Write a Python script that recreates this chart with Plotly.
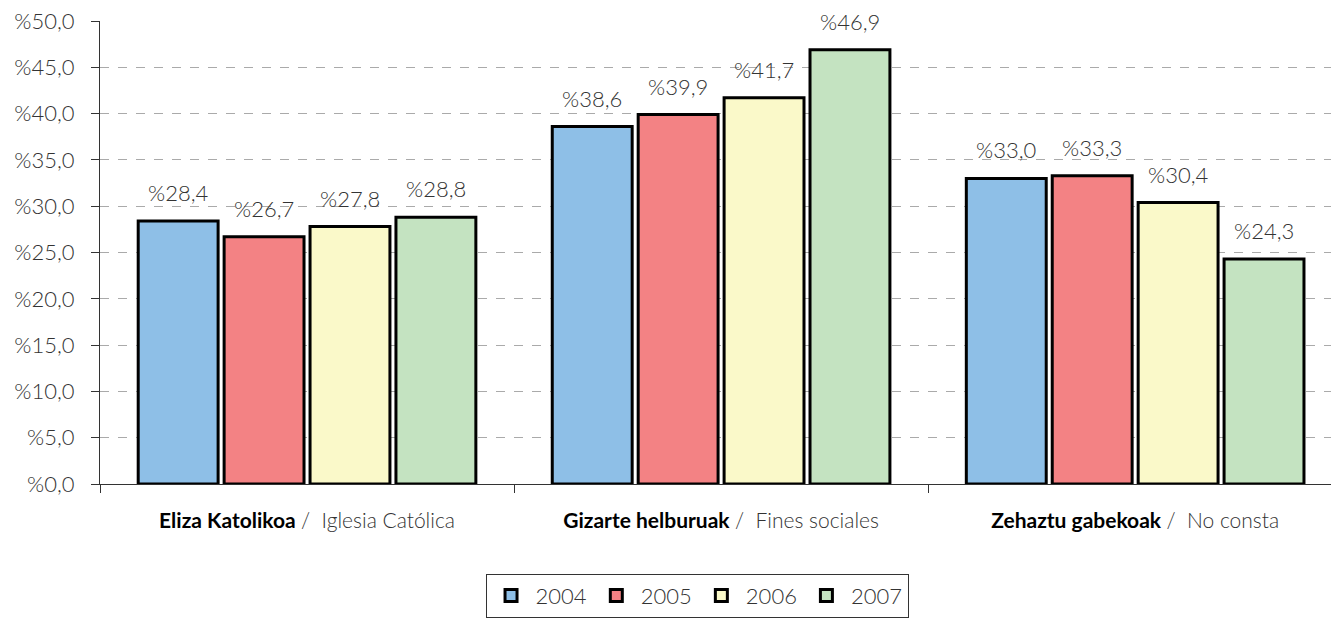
import plotly.graph_objects as go

categories = ["Eliza Katolikoa", "Gizarte helburuak", "Zehaztu gabekoak"]
categories_es = ["Iglesia Católica", "Fines sociales", "No consta"]
years = ["2004", "2005", "2006", "2007"]
values = {
    "2004": [28.4, 38.6, 33.0],
    "2005": [26.7, 39.9, 33.3],
    "2006": [27.8, 41.7, 30.4],
    "2007": [28.8, 46.9, 24.3],
}
colors = {"2004": "#8EBFE7", "2005": "#F38284", "2006": "#FAF9C9", "2007": "#C4E3C1"}
y_ticks = [0, 5, 10, 15, 20, 25, 30, 35, 40, 45, 50]

def pct(v):
    return "%" + f"{v:.1f}".replace(".", ",")

FONT = "Lato"
BARGAP = 0.17
x_idx = list(range(len(categories)))

fig = go.Figure()
for yr in years:
    fig.add_trace(go.Bar(
        x=x_idx, y=values[yr], name=yr,
        marker=dict(color=colors[yr], line=dict(color="#000000", width=3)),
        cliponaxis=False,
    ))

# value labels above bars, placed via data coordinates
slot = (1 - BARGAP) / len(years)
for j, yr in enumerate(years):
    for i, v in enumerate(values[yr]):
        fig.add_annotation(
            x=x_idx[i] + (j - (len(years) - 1) / 2) * slot, y=v,
            xref="x", yref="y", text=pct(v), showarrow=False,
            yanchor="bottom", yshift=13,
            font=dict(family=FONT, size=22, color="#333333", weight=300),
        )

ticktext = [f"<b>{c}</b> <span style='color:#333;font-weight:300'>/  {e}</span>"
            for c, e in zip(categories, categories_es)]

fig.update_layout(
    width=1331, height=621,
    margin=dict(l=100, r=0, t=21, b=137, autoexpand=False),
    paper_bgcolor="white", plot_bgcolor="white",
    barmode="group", bargap=BARGAP, bargroupgap=0.07,
    font=dict(family=FONT, color="#333333"),
    showlegend=True,
    legend=dict(orientation="h", x=0.485, xanchor="center", y=-0.194, yanchor="top",
                bordercolor="#333333", borderwidth=1,
                font=dict(family=FONT, size=22, color="#333333", weight=300),
                itemwidth=39, tracegroupgap=0),
    xaxis=dict(range=[-0.5, 2.473], tickvals=x_idx, ticktext=ticktext, ticks="",
               tickfont=dict(family=FONT, size=21, color="#000000"),
               ticklabelstandoff=18, automargin=False,
               showline=True, linecolor="#333333", linewidth=1,
               showgrid=False, zeroline=False,
               minor=dict(tickmode="array", tickvals=[-0.5, 0.5, 1.5, 2.5], ticks="outside",
                          ticklen=8, tickcolor="#333333", showgrid=False)),
    yaxis=dict(range=[0, 50], tickvals=y_ticks, ticktext=[pct(v) for v in y_ticks],
               ticks="outside", ticklen=8, tickcolor="#333333",
               tickfont=dict(family=FONT, size=22, color="#333333", weight=300),
               ticklabelstandoff=12, automargin=False,
               showline=True, linecolor="#333333", linewidth=1,
               showgrid=True, gridcolor="#AAAAAA", griddash="dash", gridwidth=1,
               zeroline=False),
)
fig.write_html("out.html", config={"displayModeBar": False},
               post_script="document.body.style.margin='0';")
